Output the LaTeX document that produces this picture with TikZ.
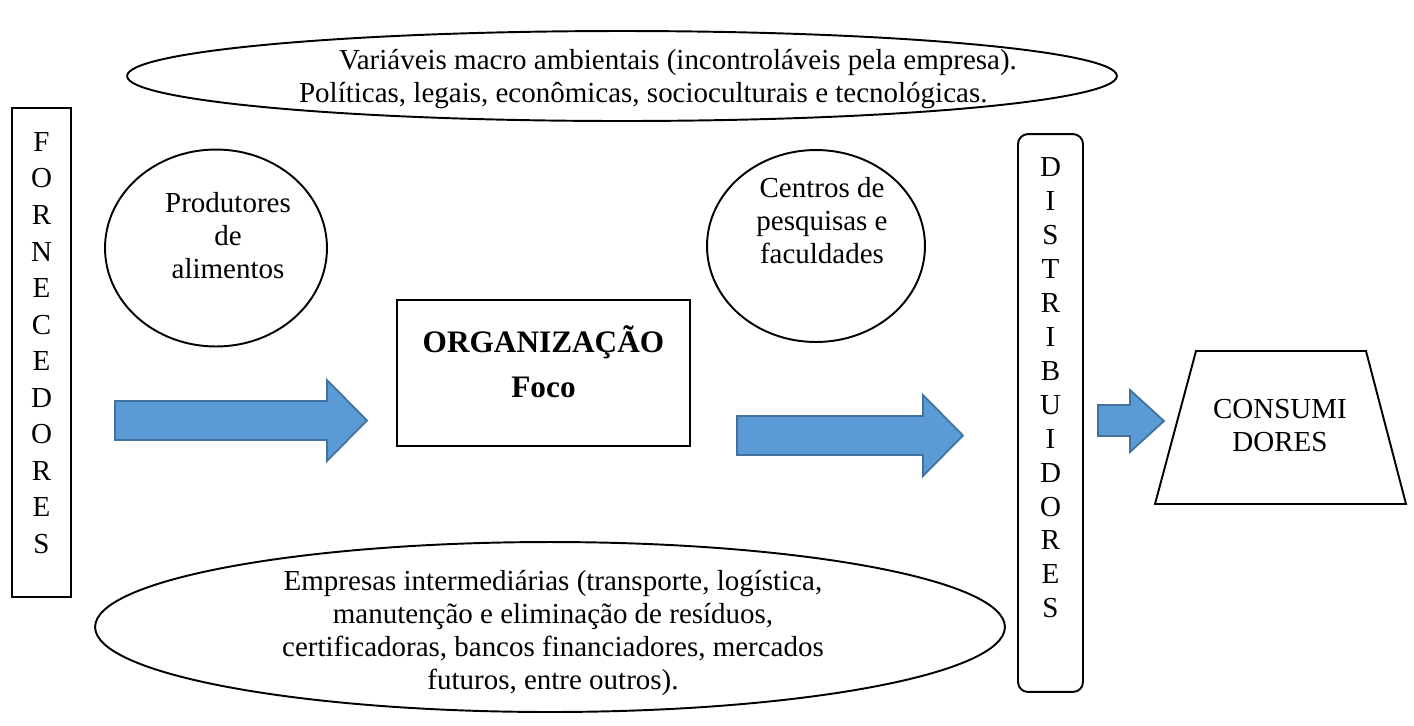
\documentclass[tikz,border=0pt]{standalone}
\usepackage{fontspec}
\setmainfont{Liberation Serif}
\usetikzlibrary{shapes.geometric,positioning}
\definecolor{azul}{RGB}{91,155,213}
\definecolor{azulborda}{RGB}{65,113,156}
\tikzset{
  texto/.style={font=\fontsize{16.5}{18.8}\selectfont, align=center, inner sep=0pt},
  elipse/.style={draw, ellipse, line width=1.1pt, inner sep=0pt},
  caixa/.style={draw, rectangle, line width=1.1pt, inner sep=0pt},
  seta/.style={fill=azul, draw=azulborda, line width=1pt, line join=miter},
}
\begin{document}
\begin{tikzpicture}[x=0.02cm,y=-0.02cm]
\useasboundingbox (0,0) rectangle (1414,725);
% variaveis macro ambientais
\node[elipse, minimum width=19.8cm, minimum height=1.8cm] (macro) at (622,76) {};
\node[texto, align=left] (macrotxt) at (658,79) {\hspace*{0.8cm}Variáveis macro ambientais (incontroláveis pela empresa).\\Políticas, legais, econômicas, socioculturais e tecnológicas.};
% fornecedores
\node[caixa, minimum width=1.18cm, minimum height=9.78cm] (forn) at (41.5,352.5) {};
\node[texto, font=\fontsize{16.5}{20.8}\selectfont] (forntxt) at (41.5,343) {F\\O\\R\\N\\E\\C\\E\\D\\O\\R\\E\\S};
% produtores
\node[elipse, minimum width=4.44cm, minimum height=3.94cm] (prod) at (216,248) {};
\node[texto] (prodtxt) at (228,236) {Produtores\\de\\alimentos};
% organizacao foco
\node[caixa, minimum width=5.86cm, minimum height=2.92cm] (org) at (543.5,373) {};
\node[texto, font=\bfseries\fontsize{17.8}{25.6}\selectfont] (orgtxt) at (543.5,362) {ORGANIZAÇÃO\\Foco};
% centros de pesquisa
\node[elipse, minimum width=4.36cm, minimum height=3.84cm] (cent) at (816,246) {};
\node[texto] (centtxt) at (822,221) {Centros de\\pesquisas e\\faculdades};
% distribuidores
\node[caixa, rounded corners=0.2cm, minimum width=1.3cm, minimum height=11.16cm] (dist) at (1050.5,413) {};
\node[texto, font=\fontsize{16.5}{19.3}\selectfont] (disttxt) at (1050.5,388) {D\\I\\S\\T\\R\\I\\B\\U\\I\\D\\O\\R\\E\\S};
% consumidores
\coordinate (t1) at (1155,504);
\coordinate (t2) at (1196,351);
\coordinate (t3) at (1366,351);
\coordinate (t4) at (1406,504);
\draw[line width=1.1pt] (t1)--(t2)--(t3)--(t4)--cycle;
\node[texto] (cons) at (1280,426) {CONSUMI\\DORES};
% setas
\draw[seta] (115,401)--(327,401)--(327,380)--(367,420.5)--(327,461)--(327,440)--(115,440)--cycle;
\draw[seta] (737,416)--(923,416)--(923,395)--(963,435.5)--(923,476)--(923,455)--(737,455)--cycle;
\draw[seta] (1098,405)--(1130,405)--(1130,390)--(1164,421)--(1130,452)--(1130,436)--(1098,436)--cycle;
% empresas intermediarias
\node[elipse, minimum width=18.2cm, minimum height=3.4cm] (interm) at (550,627) {};
\node[texto] (intermtxt) at (553,633) {Empresas intermediárias (transporte, logística,\\manutenção e eliminação de resíduos,\\certificadoras, bancos financiadores, mercados\\futuros, entre outros).};
\end{tikzpicture}
\end{document}
